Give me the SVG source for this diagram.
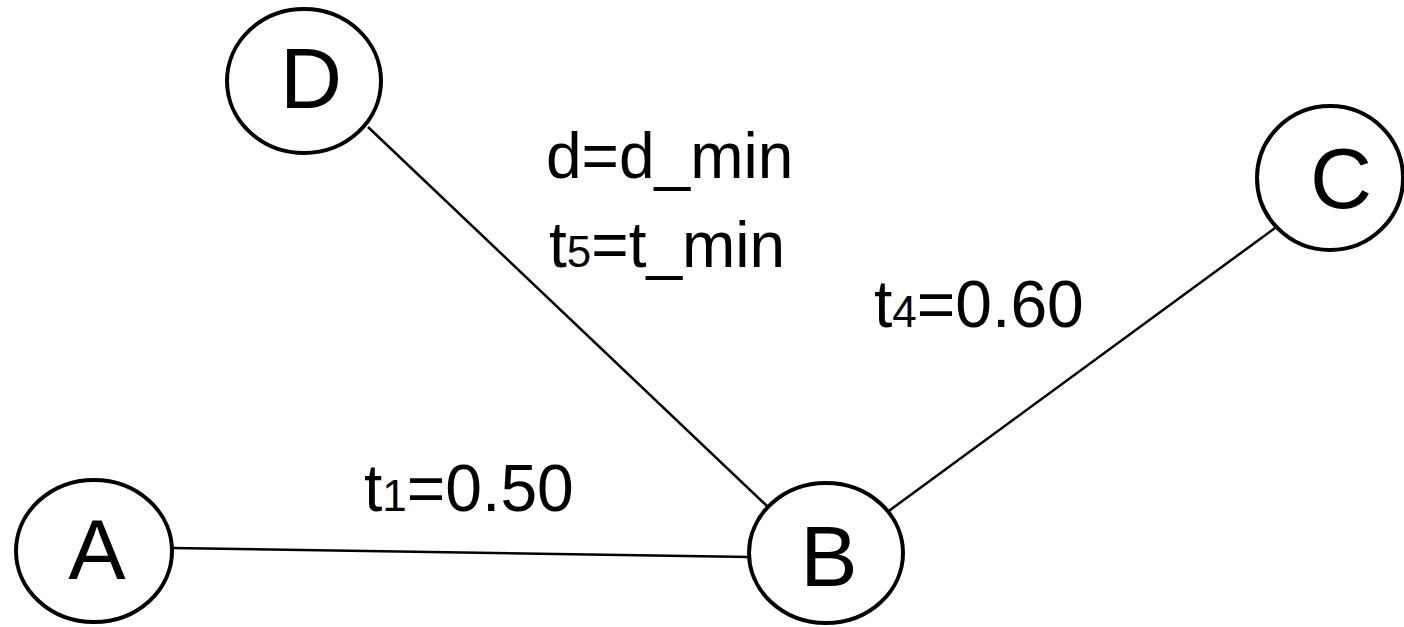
<svg xmlns="http://www.w3.org/2000/svg" width="1404" height="627" viewBox="0 0 1404 627">
<style>
.node ellipse{fill:#fff;stroke:#000;stroke-width:4}
.node text{font-family:"Liberation Sans",Arial,sans-serif;font-size:86px;text-anchor:middle;fill:#000}
.edge{stroke:#000;stroke-width:2.5;fill:none}
.lbl{font-family:"Liberation Sans",Arial,sans-serif;font-size:64px;fill:#000}
.num{font-size:66px}
.sub{font-size:44px}
</style>
<rect width="1404" height="627" fill="#fff"/>
<g id="connectors">
<line class="edge" x1="172" y1="548" x2="750" y2="557"/>
<line class="edge" x1="368" y1="127" x2="768" y2="507"/>
<line class="edge" x1="1275" y1="228" x2="886" y2="513"/>
</g>
<g id="labels">
<text class="lbl num" x="364" y="511">t<tspan class="sub">1</tspan>=0.50</text>
<text class="lbl" x="546" y="178">d=d_min</text>
<text class="lbl" x="549" y="267">t<tspan class="sub">5</tspan>=t_min</text>
<text class="lbl num" x="874" y="327">t<tspan class="sub">4</tspan>=0.60</text>
</g>
<g id="node-A" class="node"><ellipse cx="94" cy="551" rx="78" ry="71"/><text x="97" y="579">A</text></g>
<g id="node-B" class="node"><ellipse cx="826" cy="553" rx="77" ry="70"/><text x="829" y="586">B</text></g>
<g id="node-D" class="node"><ellipse cx="304" cy="81" rx="77" ry="72"/><text x="311" y="108">D</text></g>
<g id="node-C" class="node"><ellipse cx="1330" cy="178" rx="73" ry="72"/><text x="1341" y="208">C</text></g>
</svg>
